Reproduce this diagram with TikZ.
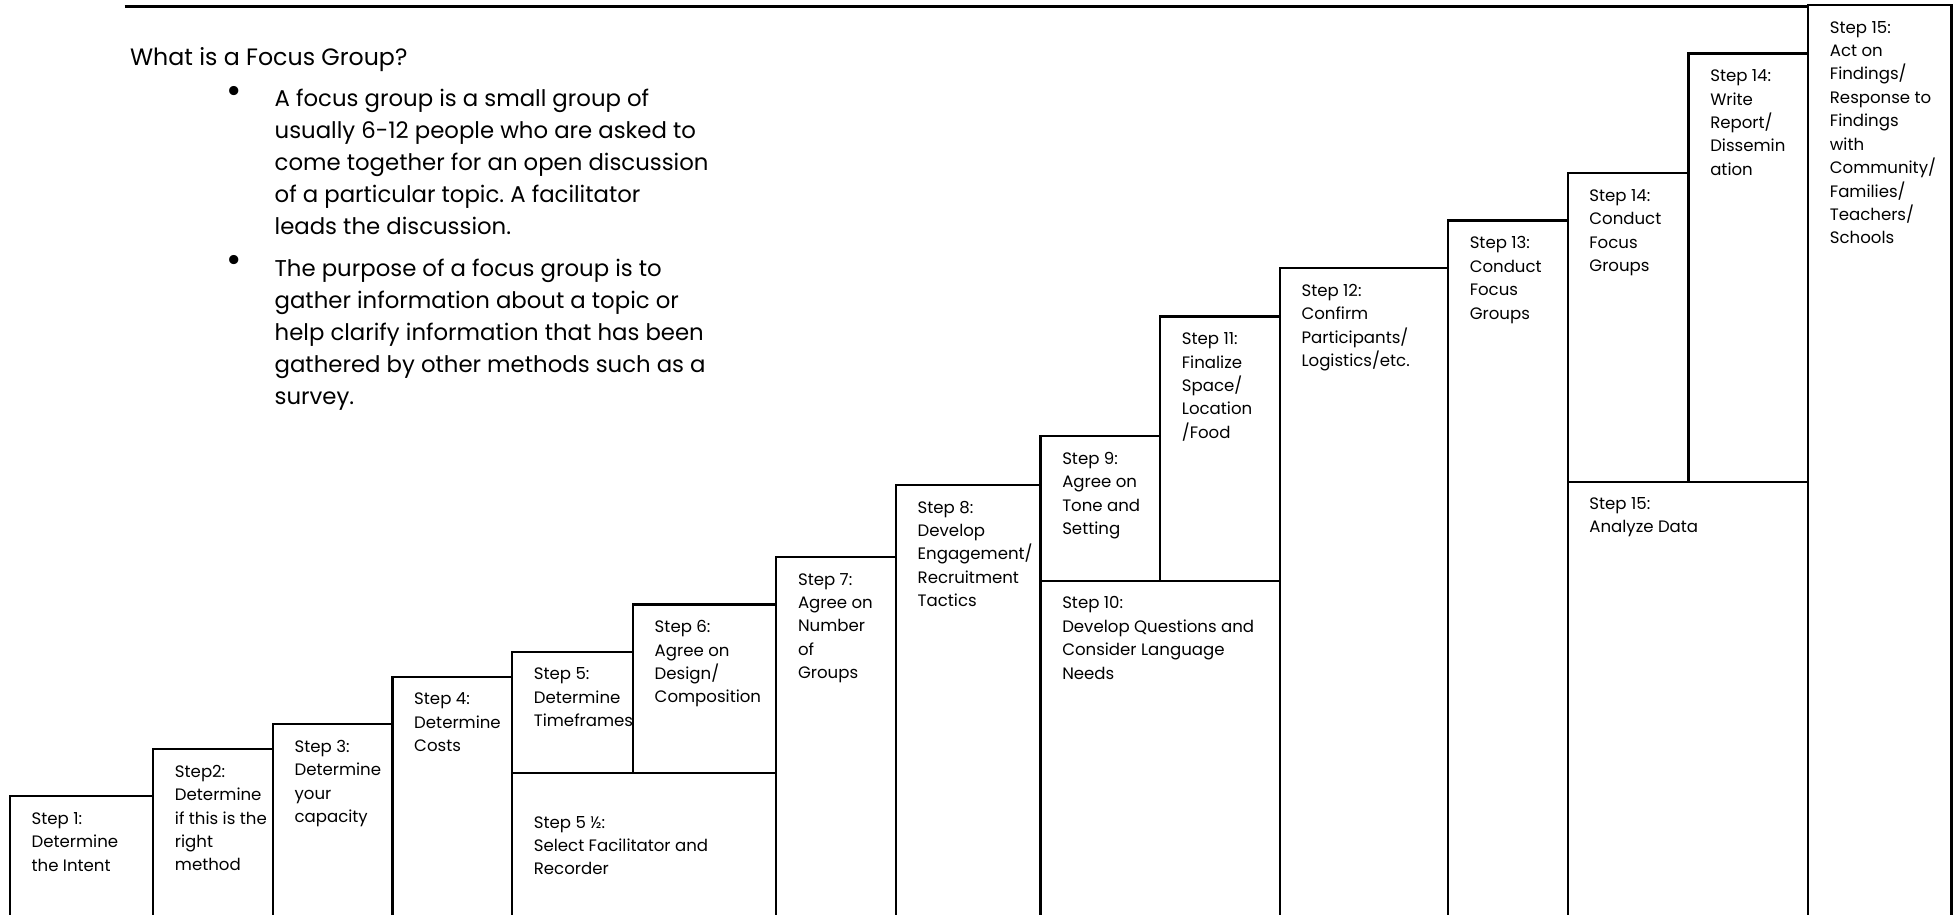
\documentclass[tikz,border=0pt]{standalone}
\usepackage{fontspec}
\setmainfont{Poppins}
\usetikzlibrary{positioning}
\frenchspacing
\tikzset{
    stepbox/.style={
           draw=black,
           line width=0.9pt},
    steptext/.style={
           anchor=north west,
           align=left,
           inner sep=0pt,
           font=\fontsize{6.65}{9.4}\selectfont},
    bullettext/.style={
           anchor=north west,
           align=left,
           inner sep=0pt,
           font=\fontsize{9.15}{12.85}\selectfont}
}

\begin{document}
\begin{tikzpicture}[x=0.5pt,y=-0.5pt]
        \useasboundingbox (0,0) rectangle (1568,734);
        % rule at the top
        \coordinate (ruleL) at (100,5);
        \coordinate (ruleR) at (1451,5);
        \draw[line width=1.2pt] (ruleL) -- (ruleR);
        % what is a focus group
        \node[bullettext, anchor=west, font=\fontsize{9.5}{12.85}\selectfont] (intro) at (104,48) {What is a Focus Group?};
        \node[bullettext] (itemA) at (220,71) {A focus group is a small group of\\
         usually 6-12 people who are asked to\\
         come together for an open discussion\\
         of a particular topic. A facilitator\\
         leads the discussion.};
        \node[bullettext] (itemB) at (220,207.5) {The purpose of a focus group is to\\
         gather information about a topic or\\
         help clarify information that has been\\
         gathered by other methods such as a\\
         survey.};
        \node[bullettext, anchor=center, font=\fontsize{15}{15}\selectfont] (dotA) at (188,76) {\textbullet};
        \node[bullettext, anchor=center, font=\fontsize{15}{15}\selectfont] (dotB) at (188,212) {\textbullet};
        % the steps
        \draw[stepbox] (8,760) -- (8,639) -- (123,639) -- (123,760);
        \node[steptext] (s1) at (25,651.5) {Step 1:\\Determine\\the Intent};
        \draw[stepbox] (123,639) -- (123,601) -- (219,601) -- (219,760);
        \node[steptext] (s2) at (140,613.5) {Step2:\\Determine\\if this is the\\right\\method};
        \draw[stepbox] (219,601) -- (219,581) -- (315,581) -- (315,760);
        \node[steptext] (s3) at (236,593.5) {Step 3:\\Determine\\your\\capacity};
        \draw[stepbox] (315,581) -- (315,543) -- (411,543) -- (411,760);
        \node[steptext] (s4) at (332,555.5) {Step 4:\\Determine\\Costs};
        \draw[stepbox] (411,543) -- (411,523) -- (508,523) -- (508,620);
        \node[steptext] (s5) at (428,535.5) {Step 5:\\Determine\\Timeframes};
        \draw[stepbox] (411,620) -- (623,620);
        \node[steptext] (s5h) at (428,654.5) {Step 5 ½:\\Select Facilitator and\\Recorder};
        \draw[stepbox] (508,523) -- (508,485) -- (623,485) -- (623,760);
        \node[steptext] (s6) at (525,497.5) {Step 6:\\Agree on\\Design/\\Composition};
        \draw[stepbox] (623,485) -- (623,447) -- (719,447) -- (719,760);
        \node[steptext] (s7) at (640,459.5) {Step 7:\\Agree on\\Number\\of\\Groups};
        \draw[stepbox] (719,447) -- (719,389) -- (835,389) -- (835,760);
        \node[steptext] (s8) at (736,401.5) {Step 8:\\Develop\\Engagement/\\Recruitment\\Tactics};
        \draw[stepbox] (835,389) -- (835,350) -- (931,350) -- (931,466);
        \node[steptext] (s9) at (852,362.5) {Step 9:\\Agree on\\Tone and\\Setting};
        \draw[stepbox] (835,466) -- (1027,466);
        \node[steptext] (s10) at (852,478.5) {Step 10:\\Develop Questions and\\Consider Language\\Needs};
        \draw[stepbox] (931,350) -- (931,254) -- (1027,254) -- (1027,760);
        \node[steptext] (s11) at (948,266.5) {Step 11:\\Finalize\\Space/\\Location\\/Food};
        \draw[stepbox] (1027,254) -- (1027,215) -- (1162,215) -- (1162,760);
        \node[steptext] (s12) at (1044,227.5) {Step 12:\\Confirm\\Participants/\\Logistics/etc.};
        \draw[stepbox] (1162,215) -- (1162,177) -- (1258,177) -- (1258,760);
        \node[steptext] (s13) at (1179,189.5) {Step 13:\\Conduct\\Focus\\Groups};
        \draw[stepbox] (1258,177) -- (1258,139) -- (1355,139) -- (1355,387);
        \node[steptext] (s14a) at (1275,151.5) {Step 14:\\Conduct\\Focus\\Groups};
        \draw[stepbox] (1258,387) -- (1451,387);
        \node[steptext] (s15a) at (1275,398.5) {Step 15:\\Analyze Data};
        \draw[stepbox] (1355,139) -- (1355,43) -- (1451,43) -- (1451,760);
        \node[steptext] (s14b) at (1372,55.5) {Step 14:\\Write\\Report/\\Dissemin\\ation};
        \draw[stepbox] (1451,43) -- (1451,4) -- (1566,4) -- (1566,760);
        \node[steptext] (s15b) at (1468,16.5) {Step 15:\\Act on\\Findings/\\Response to\\Findings\\with\\Community/\\Families/\\Teachers/\\Schools};
\end{tikzpicture}
\end{document}
